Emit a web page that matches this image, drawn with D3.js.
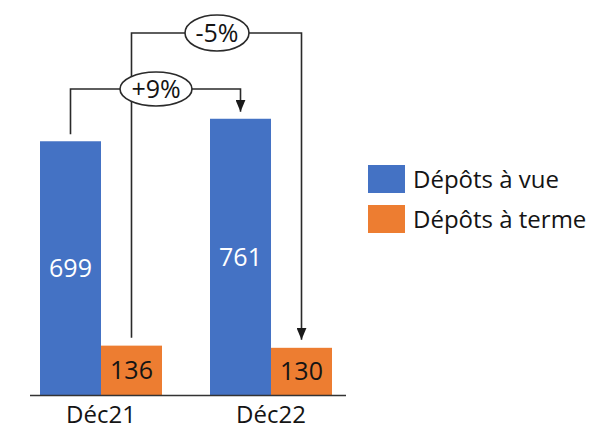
<!DOCTYPE html>
<html>
<head>
<meta charset="utf-8">
<script src="https://cdn.jsdelivr.net/npm/d3@7"></script>
<style>
  html, body { margin: 0; padding: 0; background: #fff; }
  svg { display: block; font-family: "Open Sans", "DejaVu Sans", sans-serif; font-weight: 500; }
</style>
</head>
<body>
<svg id="chart" width="614" height="431"></svg>
<script>
// Deposits by type, December 2021 vs December 2022
const categories = ["Déc21", "Déc22"];
const seriesNames = ["Dépôts à vue", "Dépôts à terme"];
const seriesColors = ["#4472C4", "#ED7D31"];
const sightDeposits = [699, 761];
const termDeposits = [136, 130];
const changeLabels = ["+9%", "-5%"];

const values = [sightDeposits, termDeposits];
const textColor = "#141414";
const fontFamily = "\"Open Sans\", \"DejaVu Sans\", sans-serif";

const svg = d3.select("#chart");
const baseY = 395;

const y = d3.scaleLinear().domain([0, 800]).range([baseY, baseY - 800 * 0.363]);
const x0 = d3.scaleBand().domain(categories).range([40, 332]).paddingInner(0.2824);
const x1 = d3.scaleBand().domain(seriesNames).range([0, x0.bandwidth()]);

// bars with value labels centred inside
const groups = svg.selectAll("g.cat").data(categories).join("g")
  .attr("class", "cat")
  .attr("transform", d => `translate(${x0(d)},0)`);

seriesNames.forEach((s, si) => {
  groups.append("rect")
    .attr("x", x1(s))
    .attr("width", x1.bandwidth())
    .attr("y", (d, ci) => y(values[si][ci]))
    .attr("height", (d, ci) => baseY - y(values[si][ci]))
    .attr("fill", seriesColors[si]);
  groups.append("text")
    .attr("x", x1(s) + x1.bandwidth() / 2)
    .attr("y", (d, ci) => (y(values[si][ci]) + baseY) / 2)
    .attr("dy", "0.36em")
    .attr("text-anchor", "middle")
    .attr("font-size", 25)
    .attr("fill", si === 0 ? "#fff" : textColor)
    .text((d, ci) => values[si][ci]);
});

// baseline
svg.append("line")
  .attr("x1", 30).attr("x2", 346)
  .attr("y1", baseY + 0.5).attr("y2", baseY + 0.5)
  .attr("stroke", "#333").attr("stroke-width", 1.5);

// category labels
const xAxis = d3.axisBottom(x0).tickSize(0).tickPadding(11);
const ax = svg.append("g").attr("transform", `translate(0,${baseY})`).call(xAxis);
ax.select(".domain").remove();
ax.selectAll("text")
  .attr("font-size", 24)
  .attr("font-family", fontFamily)
  .attr("font-weight", 500)
  .attr("fill", textColor);

// change connectors with arrows
const defs = svg.append("defs");
defs.append("marker")
  .attr("id", "arrow")
  .attr("viewBox", "0 0 12 10")
  .attr("refX", 12).attr("refY", 5)
  .attr("markerWidth", 12).attr("markerHeight", 10)
  .attr("markerUnits", "userSpaceOnUse")
  .attr("orient", "auto")
  .append("path").attr("d", "M0,0 L12,5 L0,10 Z").attr("fill", "#1a1a1a");

const levels = [89, 33];
const gaps = [7, 8];
const badgeX = [156, 217];
const ellipseR = [[36, 17], [32, 18]];

seriesNames.forEach((s, si) => {
  const xa = x0(categories[0]) + x1(s) + x1.bandwidth() / 2;
  const xb = x0(categories[1]) + x1(s) + x1.bandwidth() / 2;
  const ya = y(values[si][0]) - gaps[si];
  const yb = y(values[si][1]) - gaps[si];
  const lv = levels[si];
  svg.append("path")
    .attr("d", `M${xa},${ya} V${lv} H${xb} V${yb}`)
    .attr("fill", "none")
    .attr("stroke", "#2a2a2a")
    .attr("stroke-width", 1.6)
    .attr("marker-end", "url(#arrow)");
});

// ellipse badges on top of the connector lines
seriesNames.forEach((s, si) => {
  const g = svg.append("g").attr("transform", `translate(${badgeX[si]},${levels[si]})`);
  g.append("ellipse")
    .attr("rx", ellipseR[si][0]).attr("ry", ellipseR[si][1])
    .attr("fill", "#fff").attr("stroke", "#2a2a2a").attr("stroke-width", 1.6);
  g.append("text")
    .attr("text-anchor", "middle").attr("dy", "0.36em")
    .attr("font-size", 25).attr("fill", textColor)
    .text(changeLabels[si]);
});

// legend
const legend = svg.append("g").attr("transform", "translate(368,165)");
seriesNames.forEach((s, i) => {
  const row = legend.append("g").attr("transform", `translate(0,${i * 40})`);
  row.append("rect").attr("width", 37).attr("height", 28).attr("fill", seriesColors[i]);
  row.append("text")
    .attr("x", 45).attr("y", 14).attr("dy", "0.36em")
    .attr("font-size", 24).attr("fill", textColor)
    .text(s);
});
</script>
</body>
</html>
